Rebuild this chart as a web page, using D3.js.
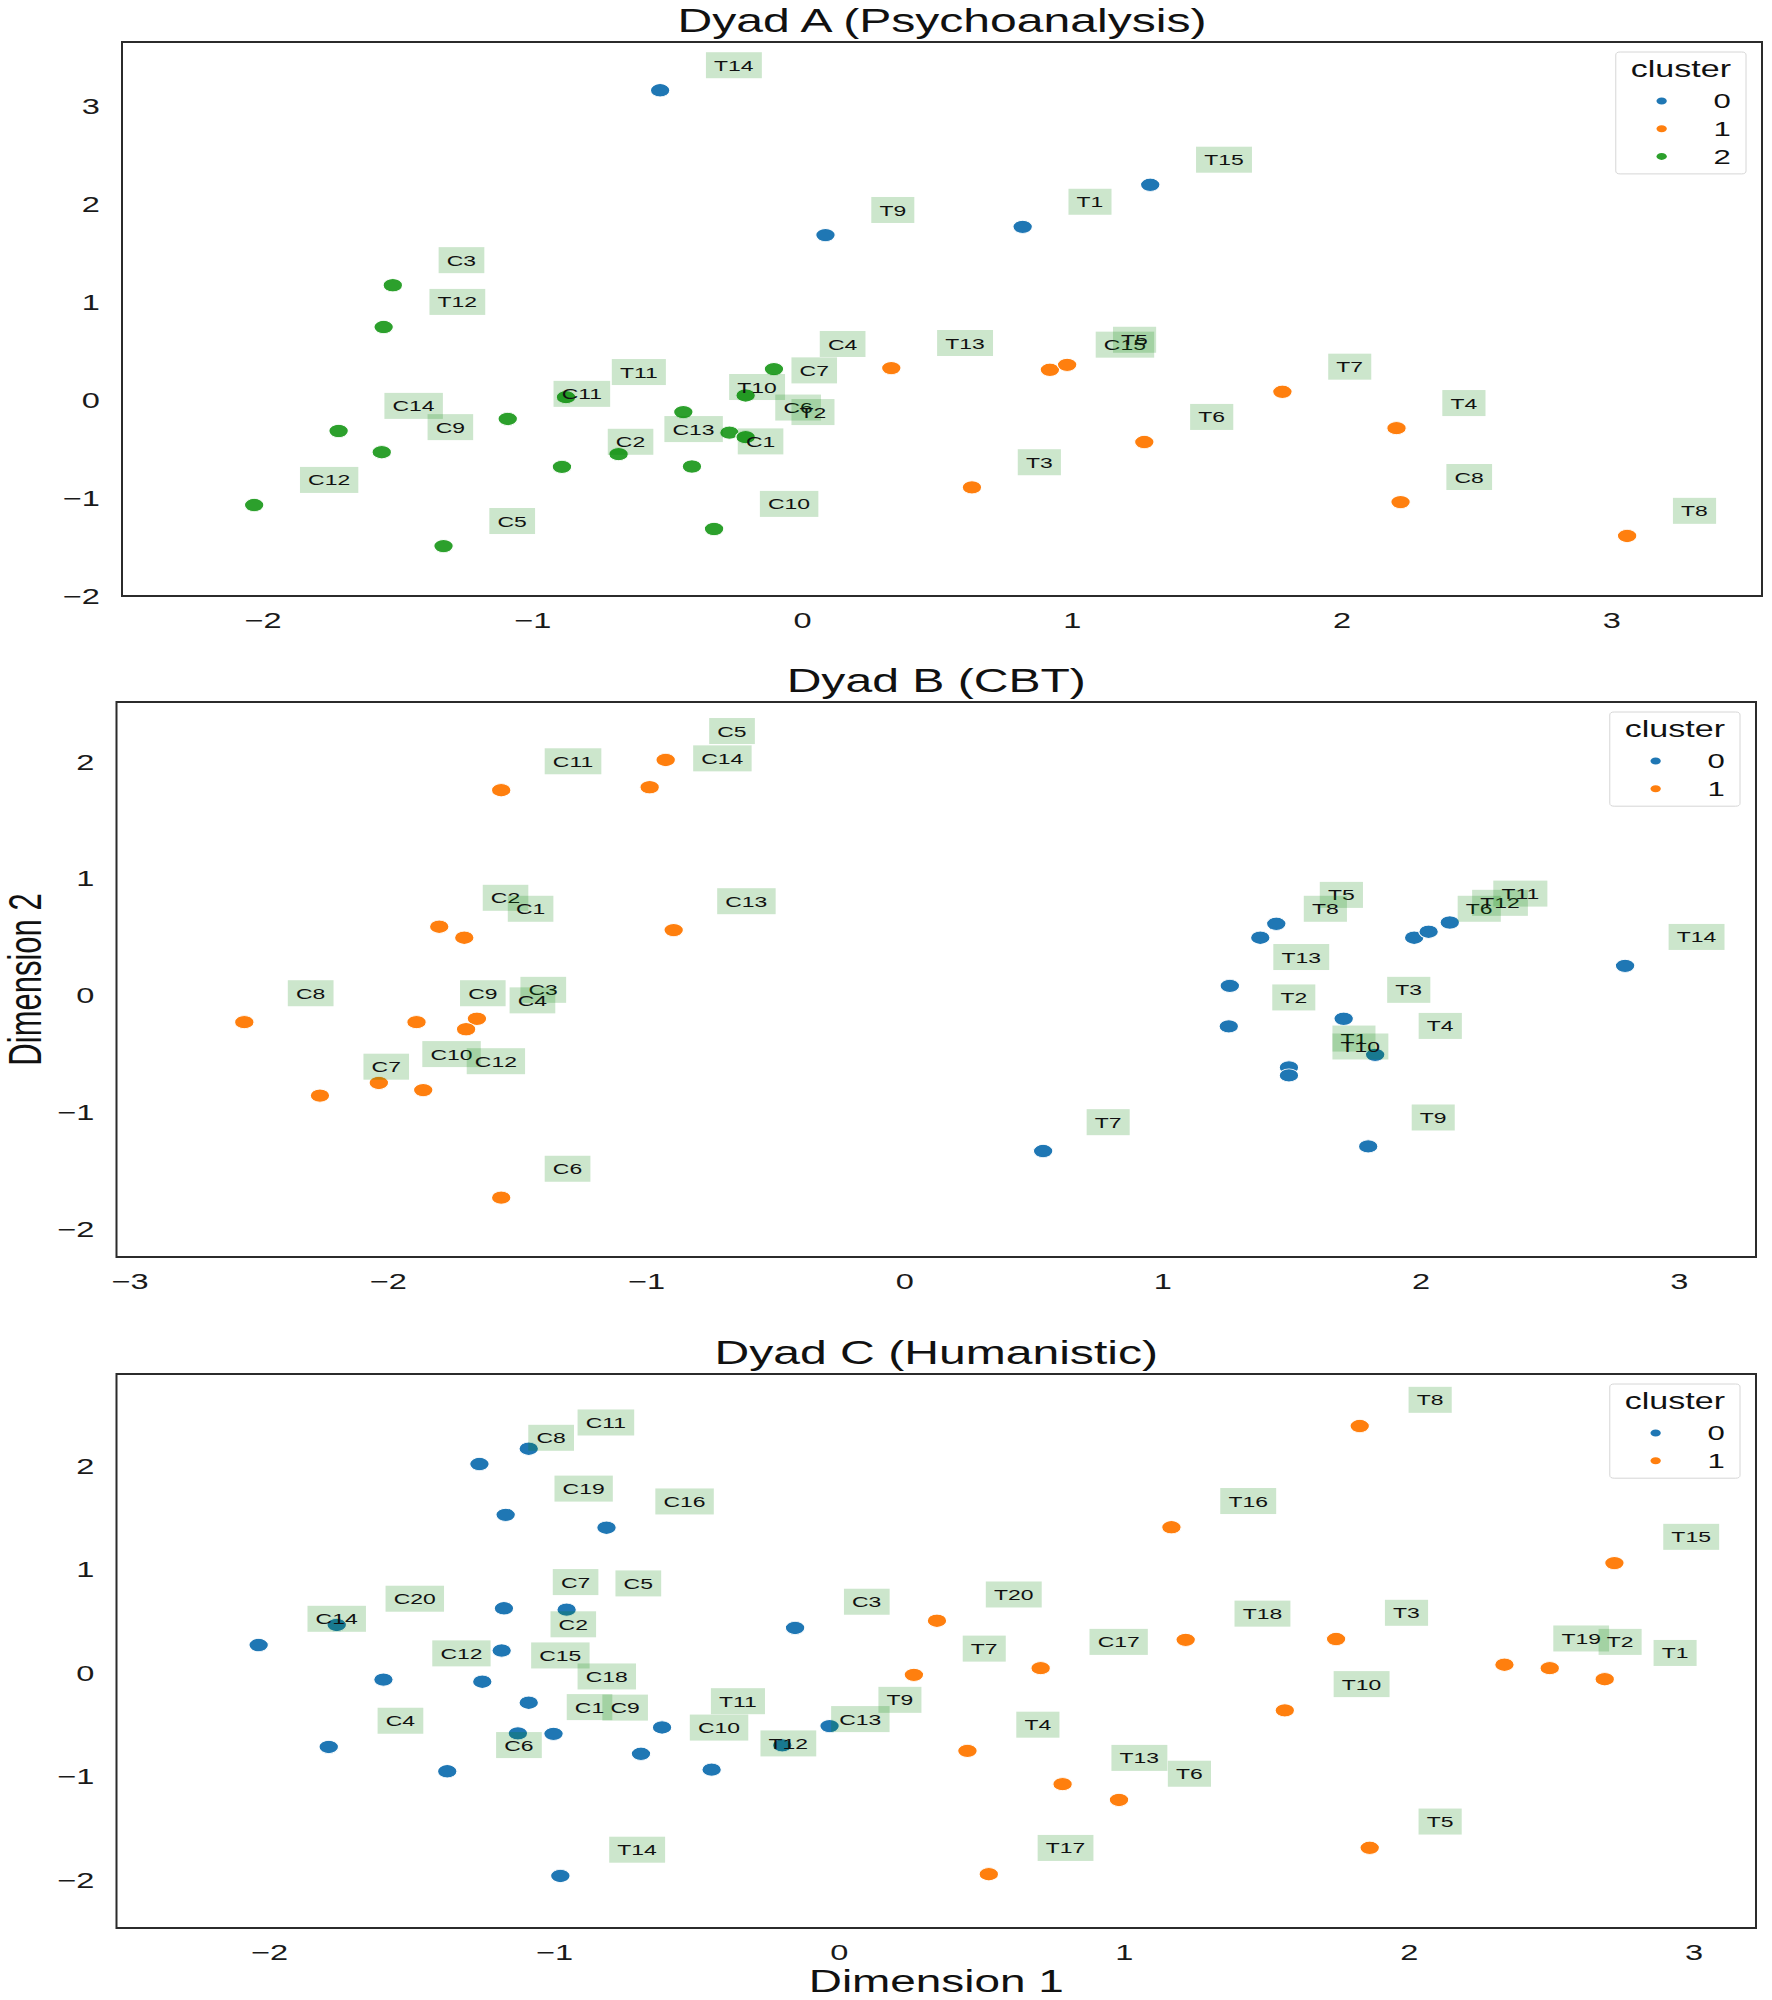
<!DOCTYPE html>
<html>
<head>
<meta charset="utf-8">
<script src="https://cdn.jsdelivr.net/npm/d3@7"></script>
<style>
  body { margin: 0; background: #fff; }
  text { font-family: "Liberation Sans", Arial, sans-serif; }
</style>
</head>
<body>
<div class="canvas"></div>
<script>
// Dyad A (Psychoanalysis)
const dyadALabels = ['T14','T9','T1','T15','C3','T12','C14','C9','C12','C5','C11','T11','C2','C13','T10',
    'C1','C6','T2','C7','C4','C10','T13','C15','T5','T7','T4','T6','T3','C8','T8'];
const dyadAX = [-0.525, 0.088, 0.819, 1.292, -1.516, -1.55, -1.717, -1.557, -2.03, -1.328, -1.09, -0.874, -0.889, -0.679, -0.439,
    -0.407, -0.268, -0.208, -0.208, -0.103, -0.325, 0.332, 0.92, 0.984, 1.782, 2.205, 1.27, 0.631, 2.22, 3.06];
const dyadAY = [3.17, 1.69, 1.774, 2.204, 1.177, 0.75, -0.313, -0.53, -1.07, -1.49, -0.19, 0.033, -0.68, -0.55, -0.12,
    -0.676, -0.33, -0.376, 0.05, 0.32, -1.315, 0.33, 0.313, 0.363, 0.088, -0.284, -0.426, -0.889, -1.04, -1.386];
const dyadACluster = [0,0,0,0,2,2,2,2,2,2,2,2,2,2,2,2,2,2,2,2,2,1,1,1,1,1,1,1,1,1];
const dyadAXTicks = [-2, -1, 0, 1, 2, 3];
const dyadAYTicks = [-2, -1, 0, 1, 2, 3];

// Dyad B (CBT)
const dyadBLabels = ['C11','C5','C14','C13','C2','C1','C8','C9','C3','C4','C7','C10','C12','C6',
    'T5','T8','T13','T2','T3','T4','T6','T12','T11','T14','T9','T7','T1','T10'];
const dyadBX = [-1.56, -0.923, -0.985, -0.892, -1.8, -1.703, -2.555, -1.888, -1.654, -1.696, -2.262, -2.034, -1.862, -1.56,
    1.442, 1.38, 1.262, 1.258, 1.703, 1.825, 1.976, 2.032, 2.114, 2.793, 1.798, 0.539, 1.491, 1.491];
const dyadBY = [1.759, 2.018, 1.784, 0.561, 0.59, 0.496, -0.227, -0.227, -0.198, -0.288, -0.856, -0.748, -0.809, -1.73,
    0.615, 0.496, 0.083, -0.263, -0.198, -0.507, 0.496, 0.547, 0.626, 0.255, -1.291, -1.331, -0.615, -0.683];
const dyadBCluster = [1,1,1,1,1,1,1,1,1,1,1,1,1,1,0,0,0,0,0,0,0,0,0,0,0,0,0,0];
const dyadBXTicks = [-3, -2, -1, 0, 1, 2, 3];
const dyadBYTicks = [-2, -1, 0, 1, 2];

// Dyad C (Humanistic)
const dyadCLabels = ['C11','C8','C19','C16','C7','C5','C20','C14','C3','C2','C12','C15','C18','C9','C1','C4',
    'T11','C10','C6','T12','T9','C13','T14',
    'T8','T16','T15','T20','T18','T3','C17','T7','T19','T2','T1','T10','T4','T13','T6','T5','T17'];
const dyadCX = [-1.088, -1.261, -1.169, -0.815, -1.175, -0.955, -1.762, -2.036, -0.153, -1.183, -1.598, -1.251, -1.088, -1.001, -1.126, -1.79,
    -0.62, -0.694, -1.374, -0.446, -0.032, -0.198, -0.977,
    1.829, 1.168, 2.723, 0.345, 1.218, 1.746, 0.709, 0.264, 2.337, 2.496, 2.689, 1.566, 0.452, 0.786, 0.984, 1.864, 0.527];
const dyadCY = [2.169, 2.021, 1.53, 1.406, 0.627, 0.614, 0.466, 0.272, 0.437, 0.219, -0.062, -0.082, -0.285, -0.586, -0.581, -0.713,
    -0.524, -0.779, -0.948, -0.932, -0.511, -0.697, -1.959,
    2.388, 1.41, 1.064, 0.507, 0.322, 0.33, 0.049, -0.016, 0.082, 0.049, -0.058, -0.359, -0.751, -1.072, -1.225, -1.687, -1.942];
const dyadCCluster = [0,0,0,0,0,0,0,0,0,0,0,0,0,0,0,0,0,0,0,0,0,0,0,
    1,1,1,1,1,1,1,1,1,1,1,1,1,1,1,1,1];
const dyadCXTicks = [-2, -1, 0, 1, 2, 3];
const dyadCYTicks = [-2, -1, 0, 1, 2];

const clusterColors = ['#1f77b4', '#ff7f0e', '#2ca02c'];

// the picture is wider than it is tall, so draw in a narrow box and stretch it sideways
const stretch = 1.48;
const width = 1772, height = 2000;
const W = width / stretch;

const svg = d3.select('.canvas')
    .append('svg')
    .attr('width', width)
    .attr('height', height)
    .attr('viewBox', `0 0 ${W} ${height}`)
    .attr('preserveAspectRatio', 'none')
    .style('display', 'block');

svg.append('rect').attr('width', W).attr('height', height).attr('fill', '#fff');

const panels = [
    {title: 'Dyad A (Psychoanalysis)', labels: dyadALabels, xs: dyadAX, ys: dyadAY, cl: dyadACluster, n: 3,
     xDomain: [-2.52, 3.56], yDomain: [-2.0, 3.664], xTicks: dyadAXTicks, yTicks: dyadAYTicks,
     left: 122, right: 1762, top: 42, bottom: 596},
    {title: 'Dyad B (CBT)', labels: dyadBLabels, xs: dyadBX, ys: dyadBY, cl: dyadBCluster, n: 2,
     xDomain: [-3.05, 3.30], yDomain: [-2.238, 2.514], xTicks: dyadBXTicks, yTicks: dyadBYTicks,
     left: 116.5, right: 1756, top: 702, bottom: 1257, yLabel: 'Dimension 2'},
    {title: 'Dyad C (Humanistic)', labels: dyadCLabels, xs: dyadCX, ys: dyadCY, cl: dyadCCluster, n: 2,
     xDomain: [-2.535, 3.22], yDomain: [-2.462, 2.891], xTicks: dyadCXTicks, yTicks: dyadCYTicks,
     left: 116.5, right: 1756, top: 1374, bottom: 1928, xLabel: 'Dimension 1'}
];

panels.forEach(p => {
    const left = p.left / stretch, right = p.right / stretch;

    const x = d3.scaleLinear().domain(p.xDomain).range([left, right]);
    const y = d3.scaleLinear().domain(p.yDomain).range([p.bottom, p.top]);

    const graph = svg.append('g');

    // axes, no tick marks
    const xAxisGroup = graph.append('g')
        .attr('transform', `translate(0, ${p.bottom})`)
        .call(d3.axisBottom(x).tickValues(p.xTicks).tickSize(0).tickPadding(16.5).tickFormat(d3.format('d')));
    const yAxisGroup = graph.append('g')
        .attr('transform', `translate(${left}, 0)`)
        .call(d3.axisLeft(y).tickValues(p.yTicks).tickSize(0).tickPadding(15).tickFormat(d3.format('d')));

    [xAxisGroup, yAxisGroup].forEach(a => {
        a.select('.domain').remove();
        a.attr('font-size', 22).attr('font-family', null).attr('color', '#1a1a1a');
    });

    // frame
    graph.append('rect')
        .attr('x', left)
        .attr('y', p.top)
        .attr('width', right - left)
        .attr('height', p.bottom - p.top)
        .attr('fill', 'none')
        .attr('stroke', '#2b2b2b')
        .attr('stroke-width', 2)
        .attr('vector-effect', 'non-scaling-stroke');

    graph.append('text')
        .attr('x', (left + right) / 2)
        .attr('y', p.top - 10)
        .attr('text-anchor', 'middle')
        .attr('font-size', 32.5)
        .attr('fill', '#111')
        .text(p.title);

    const idx = d3.range(p.labels.length);

    graph.append('g').selectAll('circle')
        .data(idx)
        .enter()
        .append('circle')
            .attr('cx', i => x(p.xs[i]))
            .attr('cy', i => y(p.ys[i]))
            .attr('r', 6.6)
            .attr('fill', i => clusterColors[p.cl[i]])
            .attr('stroke', '#fff')
            .attr('stroke-width', 0.8);

    // text labels with a see-through green box, placed at (x + 0.2, y + 0.2)
    idx.forEach(i => {
        const lg = graph.append('g');
        const box = lg.append('rect');
        const t = lg.append('text')
            .attr('x', x(p.xs[i] + 0.2))
            .attr('y', y(p.ys[i] + 0.2))
            .attr('font-size', 15.5)
            .attr('fill', '#111')
            .text(p.labels[i]);
        const b = t.node().getBBox();
        box.attr('x', b.x - 5.5)
            .attr('y', b.y - 4.3)
            .attr('width', b.width + 11)
            .attr('height', b.height + 8.6)
            .attr('fill', 'green')
            .attr('fill-opacity', 0.2);
    });

    // legend
    const legW = 88, legH = 49 + 27.7 * (p.n - 1) + 17.5;
    const legend = graph.append('g')
        .attr('transform', `translate(${right - 10.8 - legW}, ${p.top + 10})`);
    legend.append('rect')
        .attr('width', legW)
        .attr('height', legH)
        .attr('rx', 3)
        .attr('fill', '#fff')
        .attr('fill-opacity', 0.8)
        .attr('stroke', '#d6d6d6')
        .attr('stroke-width', 1)
        .attr('vector-effect', 'non-scaling-stroke');
    legend.append('text')
        .attr('x', legW / 2)
        .attr('y', 25)
        .attr('text-anchor', 'middle')
        .attr('font-size', 23)
        .attr('fill', '#111')
        .text('cluster');
    d3.range(p.n).forEach(k => {
        legend.append('circle')
            .attr('cx', 31)
            .attr('cy', 49 + 27.7 * k)
            .attr('r', 3.5)
            .attr('fill', clusterColors[k]);
        legend.append('text')
            .attr('x', 66)
            .attr('y', 49 + 27.7 * k)
            .attr('dy', '0.35em')
            .attr('font-size', 21)
            .attr('fill', '#111')
            .text(k);
    });

    if (p.yLabel) {
        graph.append('text')
            .attr('transform', `translate(${41 / stretch}, ${(p.top + p.bottom) / 2}) rotate(-90)`)
            .attr('text-anchor', 'middle')
            .attr('font-size', 31)
            .attr('fill', '#111')
            .text(p.yLabel);
    }
    if (p.xLabel) {
        graph.append('text')
            .attr('x', (left + right) / 2)
            .attr('y', 1992)
            .attr('text-anchor', 'middle')
            .attr('font-size', 31)
            .attr('fill', '#111')
            .text(p.xLabel);
    }
});
</script>
</body>
</html>
